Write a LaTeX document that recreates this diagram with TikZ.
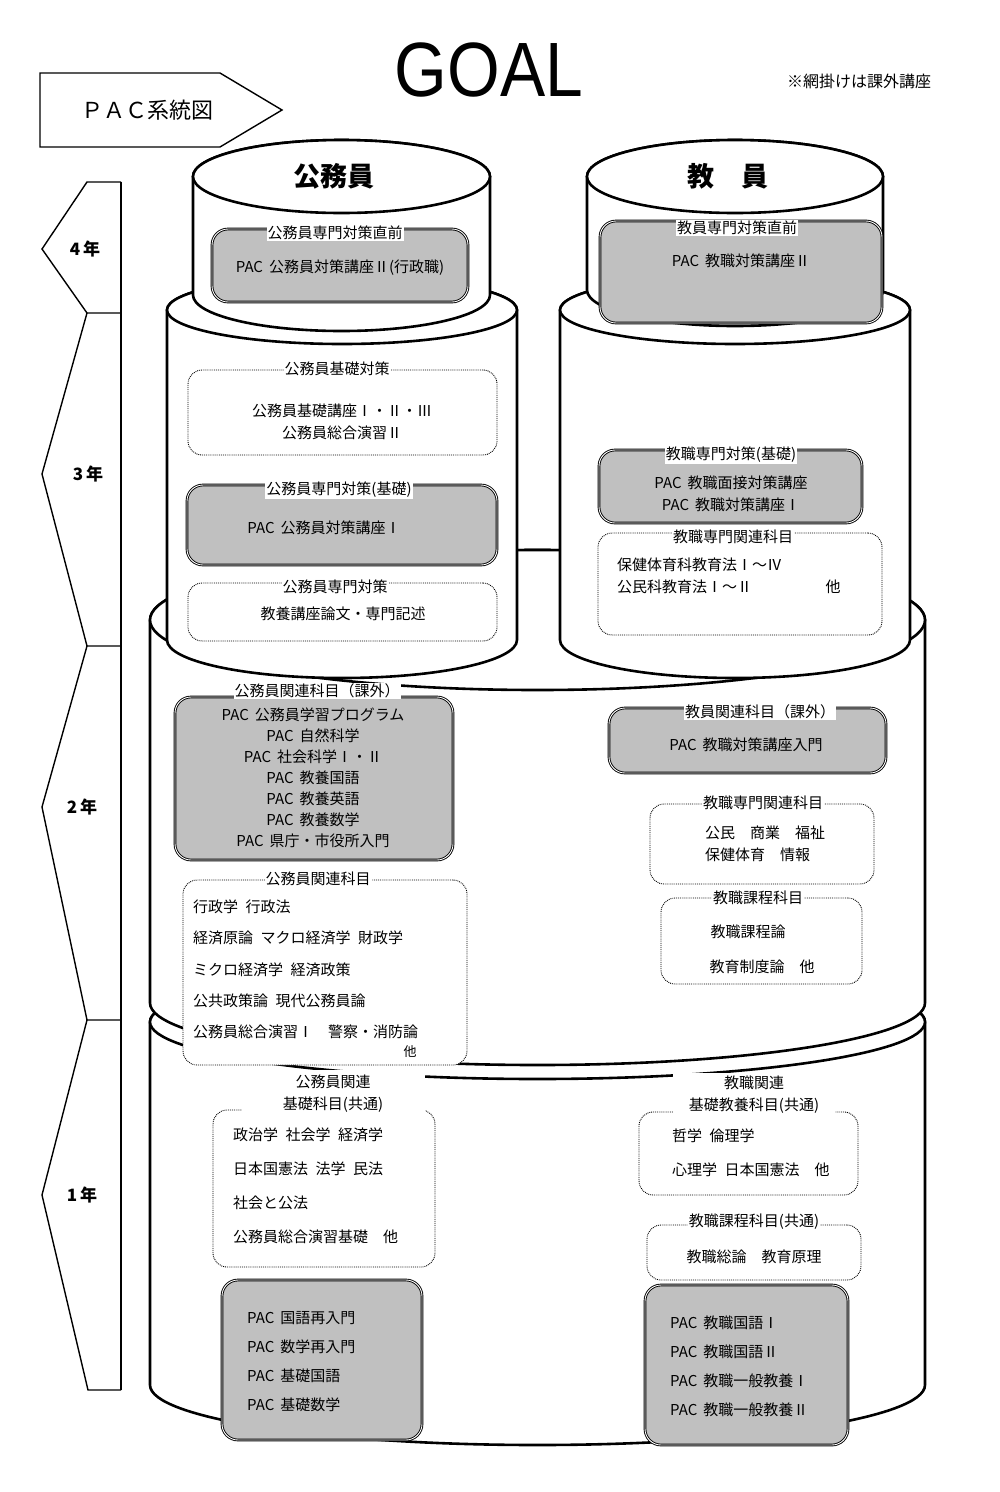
\documentclass[tikz,border=0pt]{standalone}
\usepackage{fontspec}
\setmainfont{Noto Sans CJK JP}
\newfontfamily\goalfont{Liberation Sans}
\usetikzlibrary{positioning}

\definecolor{netgray}{RGB}{192,192,192}

\tikzset{
  canline/.style={draw, fill=white, line width=2.6pt},
  boxline/.style={draw, line width=1.4pt},
  netbox/.style={draw, fill=netgray, double=white, line width=0.9pt, double distance=0.9pt, rounded corners=16pt, inner sep=0pt},
  dotbox/.style={draw, fill=white, densely dotted, line width=0.9pt, rounded corners=14pt, inner sep=0pt},
  tag/.style={fill=white, inner sep=1pt, font=\fontsize{15}{18}\selectfont},
  txt/.style={inner sep=0pt, font=\fontsize{15}{18}\selectfont},
  rows/.style={inner sep=0pt, align=left, anchor=west, font=\fontsize{15}{#1}\selectfont},
  crows/.style={inner sep=0pt, align=center, font=\fontsize{15}{#1}\selectfont},
  yr/.style={inner sep=0pt, font=\fontsize{17}{20}\selectfont\bfseries}
}

% cylinder: centre x, half width, top y, top radius, bottom y, bottom radius
\newcommand{\pacdrum}[6]{%
  \filldraw[canline] (#1-#2,#3) -- (#1-#2,#5)
    arc[start angle=180, end angle=0, x radius=#2, y radius=#6]
    -- (#1+#2,#3)
    arc[start angle=0, end angle=-180, x radius=#2, y radius=#4] -- cycle;
  \draw[canline] (#1,#3) ellipse[x radius=#2, y radius=#4];
}
\newcommand{\PAC}{PAC\hspace{.4em}}
\newcommand{\pacsp}{\hspace{.5em}}

\begin{document}
\begin{tikzpicture}[x=1pt,y=-1pt]
\useasboundingbox (0,0) rectangle (1000,1492);

% header
\draw[boxline] (40,73) -- (220,73) -- (282,110) -- (220,147) -- (40,147) -- cycle;
\node[font=\fontsize{22}{24}\selectfont] (sys) at (147,110) {ＰＡＣ系統図};
\node[inner sep=0pt, font=\goalfont\fontsize{77}{80}\selectfont] (goal) at (489,70) {\scalebox{0.88}[1]{GOAL}};
\node[font=\fontsize{16}{18}\selectfont] (note) at (859,81) {※網掛けは課外講座};

% years
\draw[boxline] (121,182) -- (87,182) -- (42,249) -- (87,313) -- (121,313);
\draw[boxline] (87,313) -- (42,474) -- (87,646) -- (121,646);
\draw[boxline] (87,646) -- (42,807) -- (87,1020) -- (121,1020);
\draw[boxline] (87,1020) -- (42,1195) -- (88,1390) -- (121,1390);
\draw[line width=2.2pt] (121,182) -- (121,1390);

\node[yr] (y4) at (85,249) {4\,年};
\node[yr] (y3) at (88,474) {3\,年};
\node[yr] (y2) at (82,807) {2\,年};
\node[yr] (y1) at (82,1195) {1\,年};

% cylinders, bottom first
\pacdrum{537.5}{387.5}{1022}{57}{1385}{60}
\pacdrum{537.5}{387.5}{620}{70}{1003}{62}
\pacdrum{342}{175}{310}{34}{640}{38}
\pacdrum{735}{175}{310}{34}{640}{38}
\pacdrum{341.5}{148.5}{176.5}{36.5}{295}{36}
\pacdrum{735}{148}{176.5}{36.5}{290}{36}

\node[font=\fontsize{27}{30}\selectfont\bfseries] (civil) at (334,176) {公務員};
\node[font=\fontsize{27}{30}\selectfont\bfseries] (teach) at (728,176) {教　員};

% 4th year
\node[netbox, minimum width=256, minimum height=73] (k4l) at (340,265.5) {};
\node[tag] (k4lt) at (335,233) {公務員専門対策直前};
\node[txt] (k4lc) at (340,268) {\PAC 公務員対策講座Ⅱ(行政職)};

\node[netbox, minimum width=282, minimum height=102] (k4r) at (741,272) {};
\node[tag] (k4rt) at (737,228) {教員専門対策直前};
\node[txt] (k4rc) at (741,261) {\PAC 教職対策講座Ⅱ};

% 3rd year
\node[dotbox, minimum width=309, minimum height=85] (k3a) at (342.5,412.5) {};
\node[tag] (k3at) at (337,369) {公務員基礎対策};
\node[crows=22] (k3ac) at (342,422) {公務員基礎講座Ⅰ・Ⅱ・Ⅲ\\公務員総合演習Ⅱ};

\node[netbox, minimum width=310, minimum height=80] (k3b) at (342,525) {};
\node[tag] (k3bt) at (339,490) {公務員専門対策(基礎)};
\node[txt] (k3bc) at (324,528) {\PAC 公務員対策講座Ⅰ};

\node[dotbox, minimum width=309, minimum height=58] (k3c) at (342.5,612) {};
\node[tag] (k3ct) at (335,587) {公務員専門対策};
\node[txt] (k3cc) at (343,614) {教養講座論文・専門記述};

\node[netbox, minimum width=263, minimum height=73] (k3d) at (730.5,486.5) {};
\node[tag] (k3dt) at (731,455) {教職専門対策(基礎)};
\node[crows=22] (k3dc) at (731,494) {\PAC 教職面接対策講座\\\PAC 教職対策講座Ⅰ};

\node[dotbox, minimum width=284, minimum height=102] (k3e) at (740,584) {};
\node[tag] (k3et) at (733,537) {教職専門関連科目};
\node[rows=22] (k3ec) at (617,576) {保健体育科教育法Ⅰ～Ⅳ\\公民科教育法Ⅰ～Ⅱ};
\node[txt] (k3eo) at (833,587) {他};

% 2nd year
\node[netbox, minimum width=278, minimum height=163] (k2a) at (314,778.5) {};
\node[tag] (k2at) at (317,691) {公務員関連科目（課外）};
\node[crows=21] (k2ac) at (313,778) {\PAC 公務員学習プログラム\\\PAC 自然科学\\\PAC 社会科学Ⅰ・Ⅱ\\\PAC 教養国語\\\PAC 教養英語\\\PAC 教養数学\\\PAC 県庁・市役所入門};

\node[dotbox, minimum width=284, minimum height=185] (k2b) at (325,972.5) {};
\node[tag] (k2bt) at (318,879) {公務員関連科目};
\node[rows=31.25] (k2bc) at (193,969.5) {行政学\pacsp 行政法\\経済原論\pacsp マクロ経済学\pacsp 財政学\\ミクロ経済学\pacsp 経済政策\\公共政策論\pacsp 現代公務員論\\公務員総合演習Ⅰ\pacsp\pacsp 警察・消防論};
\node[inner sep=0pt, font=\fontsize{13}{15}\selectfont] (k2bo) at (410,1052) {他};

\node[netbox, minimum width=277, minimum height=65] (k2c) at (747.5,740.5) {};
\node[tag] (k2ct) at (760,712) {教員関連科目（課外）};
\node[txt] (k2cc) at (746,745) {\PAC 教職対策講座入門};

\node[dotbox, minimum width=224, minimum height=80] (k2d) at (762,844) {};
\node[tag] (k2dt) at (763,803) {教職専門関連科目};
\node[rows=22] (k2dc) at (705,844) {公民　商業　福祉\\保健体育　情報};

\node[dotbox, minimum width=201, minimum height=86] (k2e) at (761.5,941) {};
\node[tag] (k2et) at (758,898) {教職課程科目};
\node[txt] (k2ec) at (748,932) {教職課程論};
\node[txt] (k2eo) at (762,967) {教育制度論　他};

% 1st year
\node[dotbox, minimum width=222, minimum height=157] (k1a) at (324,1188.5) {};
\node[crows=22, fill=white, minimum width=183, minimum height=48] (k1at) at (333,1094) {公務員関連\\基礎科目(共通)};
\node[rows=34] (k1ac) at (233,1186) {政治学\pacsp 社会学\pacsp 経済学\\日本国憲法\pacsp 法学\pacsp 民法\\社会と公法\\公務員総合演習基礎　他};

\node[netbox, minimum width=200, minimum height=160] (k1b) at (322,1360) {};
\node[rows=29] (k1bc) at (247,1361.5) {\PAC 国語再入門\\\PAC 数学再入門\\\PAC 基礎国語\\\PAC 基礎数学};

\node[dotbox, minimum width=219, minimum height=83] (k1c) at (748.5,1153.5) {};
\node[crows=22, fill=white, minimum width=162, minimum height=44] (k1ct) at (754,1095) {教職関連\\基礎教養科目(共通)};
\node[rows=34] (k1cc) at (672,1153) {哲学\pacsp 倫理学\\心理学\pacsp 日本国憲法　他};

\node[dotbox, minimum width=214, minimum height=55] (k1d) at (754,1252.5) {};
\node[tag] (k1dt) at (754,1222) {教職課程科目(共通)};
\node[txt] (k1dc) at (754,1257) {教職総論　教育原理};

\node[netbox, minimum width=203, minimum height=160] (k1e) at (746.5,1365) {};
\node[rows=29] (k1ec) at (670,1366.5) {\PAC 教職国語Ⅰ\\\PAC 教職国語Ⅱ\\\PAC 教職一般教養Ⅰ\\\PAC 教職一般教養Ⅱ};

\end{tikzpicture}
\end{document}
